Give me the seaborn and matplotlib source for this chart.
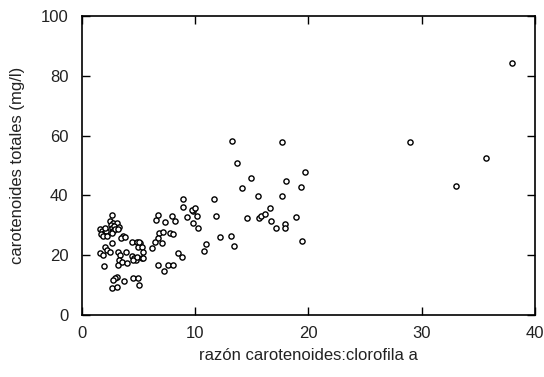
import matplotlib
matplotlib.use("Agg")
import matplotlib.pyplot as plt
import seaborn as sns
import pandas as pd

# razón carotenoides:clorofila a
ratio = [
    2.67, 2.47, 2.76, 3.06, 1.59, 1.77, 1.94, 1.68, 2.12, 1.85, 2.21, 2.03,
    2.56, 2.65, 2.74, 2.82, 2.65, 2.91, 3.27, 3.15, 3.65, 3.44, 3.80, 2.62,
    2.03, 2.18, 2.47, 1.59, 1.88, 3.20, 3.35, 3.27, 3.20, 3.86, 1.97, 3.50,
    3.95, 3.06, 2.91, 2.76, 3.73, 2.62, 3.09,
    4.39, 4.83, 5.12, 4.97, 4.41, 4.59, 4.77, 4.50, 4.85, 4.53, 4.92, 5.06,
    5.27, 5.38, 5.27, 5.38, 5.03,
    6.15, 6.53, 6.73, 7.33, 7.97, 8.21, 6.82, 7.12, 6.73, 6.44, 7.03, 7.77,
    8.00, 8.50, 8.80, 6.73, 7.24, 7.62, 8.06,
    8.94, 8.94, 9.24, 9.82, 9.68, 9.97, 10.12, 9.82, 10.21,
    11.65, 11.83, 12.18, 13.12, 13.42, 10.94, 10.77, 13.21, 13.65, 14.12,
    14.92, 14.59, 15.51, 15.65, 15.80, 16.15, 16.59, 16.65, 17.12, 17.92,
    17.92, 18.91, 19.39, 17.63, 17.68, 17.98, 19.68, 19.36,
    29.01, 33.07, 35.66, 38.01,
]
# carotenoides totales (mg/l)
carot = [
    33.4, 31.4, 30.9, 30.7, 28.8, 28.1, 27.4, 27.1, 28.1, 26.4, 26.4, 29.1,
    30.1, 29.1, 28.1, 29.8, 27.4, 28.8, 29.5, 28.7, 26.4, 25.7, 26.2, 24.0,
    22.8, 21.7, 21.2, 20.6, 20.1, 21.2, 20.1, 18.4, 16.7, 21.2, 16.4, 17.8,
    17.3, 12.8, 12.3, 11.7, 11.5, 9.0, 9.4,
    24.5, 24.5, 24.0, 22.8, 19.7, 19.1, 18.4, 18.4, 19.4, 12.3, 12.3, 10.0,
    22.8, 21.2, 19.1, 19.1, 24.5,
    22.3, 31.8, 33.4, 31.2, 33.1, 31.5, 27.3, 27.9, 25.7, 24.5, 24.0, 27.3,
    27.0, 20.8, 19.5, 16.7, 14.8, 16.7, 16.7,
    38.7, 36.0, 32.7, 34.8, 35.1, 35.7, 33.0, 30.8, 29.0,
    38.7, 33.0, 26.2, 26.4, 23.1, 23.7, 21.5, 58.3, 50.8, 42.6,
    45.7, 32.3, 39.9, 32.3, 33.1, 33.7, 35.9, 31.4, 29.0, 30.3,
    29.0, 32.9, 24.7, 57.8, 39.9, 44.8, 47.7, 42.9,
    57.8, 43.2, 52.6, 84.4,
]

x_ticks = [0, 10, 20, 30, 40]
y_ticks = [0, 20, 40, 60, 80, 100]

df = pd.DataFrame({"ratio": ratio, "carot": carot})

sns.set_style("ticks")
plt.rcParams["font.family"] = ["Liberation Sans", "DejaVu Sans"]

fig = plt.figure(figsize=(5.44, 3.77), dpi=100)
ax = fig.add_axes([0.151, 0.1645, 0.832, 0.7931])

sns.scatterplot(data=df, x="ratio", y="carot", ax=ax, marker="o", s=14,
                facecolor="white", edgecolor="black", linewidth=1.0)

ax.set_xlim(0, 40)
ax.set_ylim(0, 100)
ax.set_xticks(x_ticks)
ax.set_yticks(y_ticks)
ax.tick_params(direction="in", length=6, width=1, top=True, right=True,
               labelsize=12, colors="black", labelcolor="#222222")
ax.tick_params(axis="x", pad=8)
ax.tick_params(axis="y", pad=10)
for sp in ax.spines.values():
    sp.set_linewidth(1.2)
    sp.set_color("black")

ax.set_xlabel("razón carotenoides:clorofila a", fontsize=12, labelpad=5,
              color="#222222")
ax.set_ylabel("carotenoides totales (mg/l)", fontsize=12, labelpad=11,
              color="#222222")

fig.savefig("out.png", dpi=100)
